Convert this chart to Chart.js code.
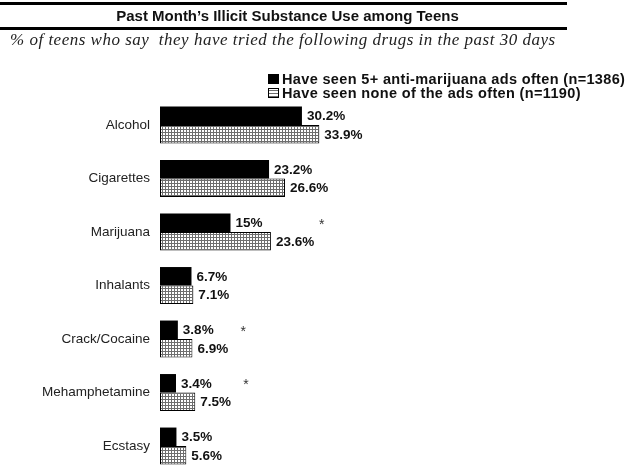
<!DOCTYPE html>
<html>
<head>
<meta charset="utf-8">
<script src="https://cdn.jsdelivr.net/npm/chart.js@4/dist/chart.umd.min.js"></script>
<style>
  body { margin: 0; background: #fff; }
  #wrap { position: relative; width: 631px; height: 465px; overflow: hidden; }
  #wrap canvas { position: absolute; left: 0; top: 0; }
  .rule { position: absolute; left: 0; width: 567px; height: 3px; background: #000; }
  #title { position: absolute; left: 0; width: 575px; top: 8px; text-align: center;
           font: bold 15px "Liberation Sans", Arial, sans-serif; line-height: 15px; color: #111; }
  #subtitle { position: absolute; left: 10px; top: 31px; white-space: pre; letter-spacing: 0.5px;
              font: italic 17px "Liberation Serif", "Times New Roman", serif; line-height: 17px; color: #222; }
  .leg { position: absolute; left: 282px; white-space: nowrap; letter-spacing: 0.35px;
         font: bold 14.5px "Liberation Sans", Arial, sans-serif; line-height: 14px; color: #111; }
  .sw { position: absolute; left: 268px; width: 11px; height: 10px; }
  #sw1 { background: #000; }
  #sw2 { border: 1px solid #000; width: 9px; height: 8px;
         background: repeating-linear-gradient(0deg, #6e6e6e 0 1px, #fff 1px 3px), #fff; }
</style>
</head>
<body>
<div id="wrap">
  <canvas id="chart"></canvas>
  <div class="rule" style="top:2px"></div>
  <div id="title">Past Month’s Illicit Substance Use among Teens</div>
  <div class="rule" style="top:27px"></div>
  <div id="subtitle">% of teens who say  they have tried the following drugs in the past 30 days</div>
  <div class="sw" id="sw1" style="top:74px"></div>
  <div class="leg" style="top:72px">Have seen 5+ anti-marijuana ads often (n=1386)</div>
  <div class="sw" id="sw2" style="top:88px"></div>
  <div class="leg" style="top:86px">Have seen none of the ads often (n=1190)</div>
</div>
<script>
var categories = ['Alcohol', 'Cigarettes', 'Marijuana', 'Inhalants', 'Crack/Cocaine', 'Mehamphetamine', 'Ecstasy'];
var seenAds = [30.2, 23.2, 15, 6.7, 3.8, 3.4, 3.5];
var noAds = [33.9, 26.6, 23.6, 7.1, 6.9, 7.5, 5.6];
var significant = ['', '', '*', '', '*', '*', ''];
var seriesNames = ['Have seen 5+ anti-marijuana ads often (n=1386)', 'Have seen none of the ads often (n=1190)'];

// grey/white screen used for the second series
function makePattern() {
    var c = document.createElement('canvas');
    c.width = 3; c.height = 3;
    var g = c.getContext('2d');
    g.fillStyle = '#fff';
    g.fillRect(0, 0, 3, 3);
    g.fillStyle = '#6e6e6e';
    g.fillRect(0, 0, 3, 1);
    g.fillRect(0, 0, 1, 3);
    return g.createPattern(c, 'repeat');
}

// value labels and significance stars
var barLabels = {
    id: 'barLabels',
    afterDatasetsDraw: function(chart) {
        var ctx = chart.ctx;
        ctx.save();
        ctx.textBaseline = 'middle';
        ctx.textAlign = 'left';
        ctx.fillStyle = '#111';
        ctx.font = 'bold 13.5px "Liberation Sans", Arial, sans-serif';
        chart.data.datasets.forEach(function(ds, di) {
            chart.getDatasetMeta(di).data.forEach(function(bar, i) {
                ctx.fillText(ds.data[i] + '%', bar.x + 5, bar.y + 1);
            });
        });
        ctx.font = '14px "Liberation Sans", Arial, sans-serif';
        ctx.fillStyle = '#333';
        var m0 = chart.getDatasetMeta(0).data, m1 = chart.getDatasetMeta(1).data;
        significant.forEach(function(s, i) {
            if (!s) return;
            var x = Math.max(m0[i].x, m1[i].x) + 48;
            ctx.fillText(s, x, m0[i].y + 2);
        });
        ctx.restore();
    }
};

var ctx = document.getElementById('chart');
var myChart = new Chart(ctx, {
    type: 'bar',
    data: {
        labels: categories,
        datasets: [{
            label: seriesNames[0],
            data: seenAds,
            backgroundColor: '#000',
            borderWidth: 0,
            clip: false
        }, {
            label: seriesNames[1],
            data: noAds,
            backgroundColor: makePattern(),
            borderColor: '#000',
            borderWidth: 1,
            borderSkipped: false,
            clip: false
        }]
    },
    options: {
        indexAxis: 'y',
        responsive: true,
        maintainAspectRatio: false,
        animation: false,
        categoryPercentage: 0.69,
        barPercentage: 1,
        layout: { padding: { top: 125, bottom: 19, left: 0, right: 1 } },
        plugins: {
            legend: { display: false },
            tooltip: { enabled: false }
        },
        scales: {
            x: { display: false, min: 0, max: 100 },
            y: {
                offset: false,
                grid: { display: false, drawTicks: false },
                border: { display: false },
                ticks: {
                    padding: 10,
                    color: '#222',
                    font: { family: '"Liberation Sans", Arial, sans-serif', size: 13.5 }
                },
                afterFit: function(s) { s.width = 160; }
            }
        }
    },
    plugins: [barLabels]
});
</script>
</body>
</html>
